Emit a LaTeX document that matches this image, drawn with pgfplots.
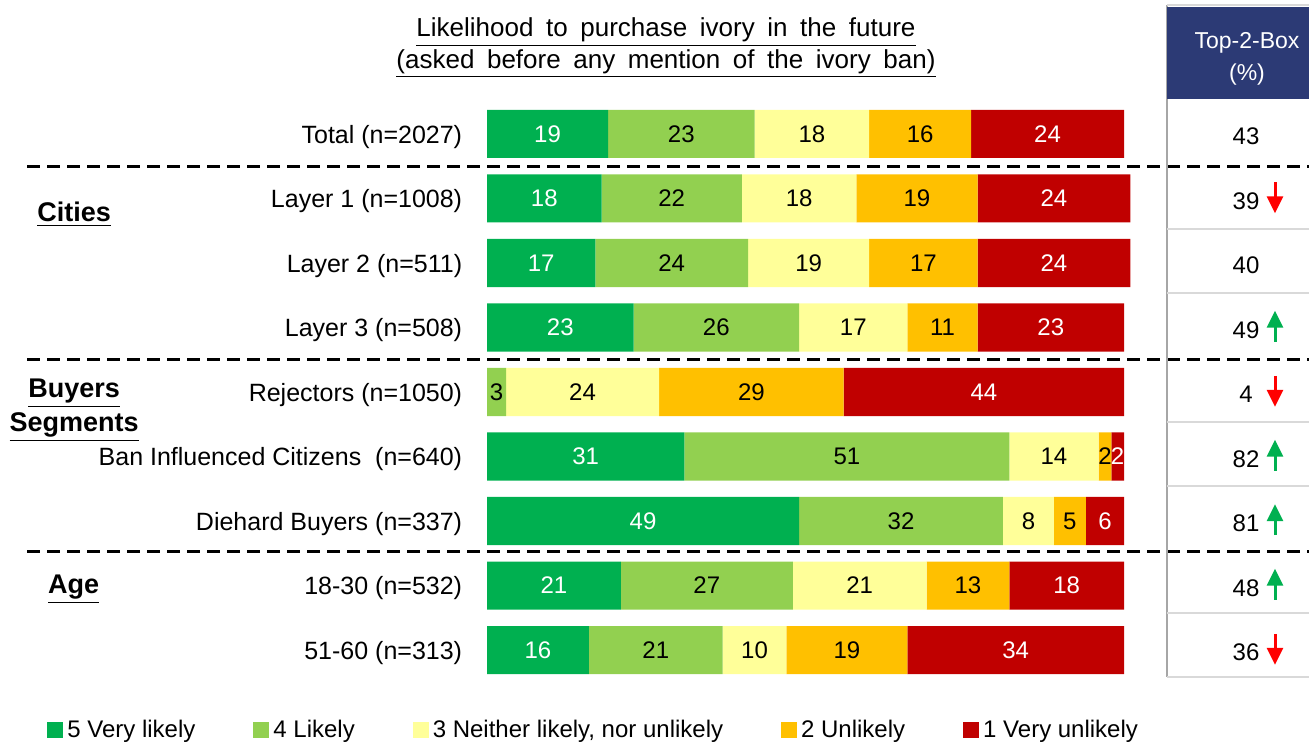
\documentclass[border=0pt]{standalone}
\usepackage{fontspec}
\setmainfont{Liberation Sans}
\usepackage{pgfplots}
\usepackage{pgfplotstable}
\pgfplotsset{compat=1.18}
\usetikzlibrary{arrows.meta}

\definecolor{c5}{HTML}{00B050}
\definecolor{c4}{HTML}{92D050}
\definecolor{c3}{HTML}{FFFF99}
\definecolor{c2}{HTML}{FFC000}
\definecolor{c1}{HTML}{C00000}
\definecolor{hdrblue}{HTML}{2C3A75}
\definecolor{rulegray}{HTML}{D9D9D9}
\definecolor{framegray}{HTML}{A6A6A6}
\definecolor{upgreen}{HTML}{00B050}
\definecolor{downred}{HTML}{FF0000}

\newcommand{\ws}{\hspace{6.3pt}}

% 5 = very likely ... 1 = very unlikely, rows top to bottom
\pgfplotstableread{
row v5 v4 v3 v2 v1 t2b
0 19 23 18 16 24 43
1 18 22 18 19 24 39
2 17 24 19 17 24 40
3 23 26 17 11 23 49
4 0  3  24 29 44 4
5 31 51 14 2  2  82
6 49 32 8  5  6  81
7 21 27 21 13 18 48
8 16 21 10 19 34 36
}\likelihood
% label positions: middle of each segment
\pgfplotstablecreatecol[create col/expr={\thisrow{v5}/2}]{m5}\likelihood
\pgfplotstablecreatecol[create col/expr={\thisrow{v5}+\thisrow{v4}/2}]{m4}\likelihood
\pgfplotstablecreatecol[create col/expr={\thisrow{v5}+\thisrow{v4}+\thisrow{v3}/2}]{m3}\likelihood
\pgfplotstablecreatecol[create col/expr={\thisrow{v5}+\thisrow{v4}+\thisrow{v3}+\thisrow{v2}/2}]{m2}\likelihood
\pgfplotstablecreatecol[create col/expr={\thisrow{v5}+\thisrow{v4}+\thisrow{v3}+\thisrow{v2}+\thisrow{v1}/2}]{m1}\likelihood

\pgfplotsset{
  frame/.style={
    scale only axis,
    width=654.5pt, height=371.5pt,
    xmin=-76.45, xmax=129.04,
    ymin=-2.0775, ymax=9.442,
    y dir=reverse,
    hide axis,
    clip=false,
  },
  seg/.style={fill=#1, draw=none},
  % marks are zero size and in the bar colour, so only the numbers show
  lab/.style 2 args={only marks, mark=*, mark size=0pt,
    mark options={draw=#2, fill=#2},
    nodes near coords, point meta=explicit symbolic,
    every node near coord/.append style={anchor=center, text=#1,
      font=\fontsize{12}{14}\selectfont}},
}

\begin{document}
\begin{tikzpicture}
\begin{axis}[
  frame,
  xbar stacked,
  bar width=24pt,
  legend columns=5,
  legend cell align=left,
  legend image code/.code={\fill[#1, draw=none] (0pt,-4pt) rectangle (8pt,4pt);},
  legend style={at={(0.0359,0.0175)}, anchor=west, draw=none, fill=none,
    inner sep=0pt, font=\fontsize{12}{14}\selectfont,
    /tikz/every even column/.append style={column sep=27pt}},
]
\addplot[seg=c5] table[x=v5, y=row] {\likelihood};
\addlegendentry{5 Very likely}
\addplot[seg=c4] table[x=v4, y=row] {\likelihood};
\addlegendentry{4 Likely}
\addplot[seg=c3] table[x=v3, y=row] {\likelihood};
\addlegendentry{3 Neither likely, nor unlikely}
\addplot[seg=c2] table[x=v2, y=row] {\likelihood};
\addlegendentry{2 Unlikely}
\addplot[seg=c1] table[x=v1, y=row] {\likelihood};
\addlegendentry{1 Very unlikely}

% title
\node[anchor=base, font=\fontsize{13}{15.5}\selectfont] at (28.1,-1.504)
  {\underline{Likelihood\ws to\ws purchase\ws ivory\ws in\ws the\ws future}};
\node[anchor=base, font=\fontsize{13}{15.5}\selectfont] at (28.1,-1.023)
  {\underline{(asked\ws before\ws any\ws mention\ws of\ws the\ws ivory\ws ban)}};

% row labels
\node[anchor=east, font=\fontsize{12.5}{15}\selectfont] at (-2.8,0.04) {Total (n=2027)};
\node[anchor=east, font=\fontsize{12.5}{15}\selectfont] at (-2.8,1.04) {Layer 1 (n=1008)};
\node[anchor=east, font=\fontsize{12.5}{15}\selectfont] at (-2.8,2.04) {Layer 2 (n=511)};
\node[anchor=east, font=\fontsize{12.5}{15}\selectfont] at (-2.8,3.04) {Layer 3 (n=508)};
\node[anchor=east, font=\fontsize{12.5}{15}\selectfont] at (-2.8,4.04) {Rejectors (n=1050)};
\node[anchor=east, font=\fontsize{12.5}{15}\selectfont] at (-2.8,5.04) {Ban Influenced Citizens\ \ (n=640)};
\node[anchor=east, font=\fontsize{12.5}{15}\selectfont] at (-2.8,6.04) {Diehard Buyers (n=337)};
\node[anchor=east, font=\fontsize{12.5}{15}\selectfont] at (-2.8,7.04) {18-30 (n=532)};
\node[anchor=east, font=\fontsize{12.5}{15}\selectfont] at (-2.8,8.04) {51-60 (n=313)};

% group labels
\node[anchor=base, font=\bfseries\fontsize{13.5}{16}\selectfont] at (-64.8,1.364) {\underline{Cities}};
\node[anchor=base, font=\bfseries\fontsize{13.5}{16}\selectfont] at (-64.8,4.093) {\underline{Buyers}};
\node[anchor=base, font=\bfseries\fontsize{13.5}{16}\selectfont] at (-64.8,4.62) {\underline{Segments}};
\node[anchor=base, font=\bfseries\fontsize{13.5}{16}\selectfont] at (-64.9,7.13) {\underline{Age}};

% top-2-box column
\fill[hdrblue] (106.75,-1.97) rectangle (129.04,-0.55);
\draw[rulegray, line width=1pt] (106.75,-2.0) -- (129.04,-2.0);
\draw[rulegray, line width=1pt] (106.75,1.47) -- (129.04,1.47);
\draw[rulegray, line width=1pt] (106.75,2.47) -- (129.04,2.47);
\draw[rulegray, line width=1pt] (106.75,4.47) -- (129.04,4.47);
\draw[rulegray, line width=1pt] (106.75,5.45) -- (129.04,5.45);
\draw[rulegray, line width=1pt] (106.75,7.43) -- (129.04,7.43);
\draw[rulegray, line width=1pt] (106.75,8.42) -- (129.04,8.42);
\draw[framegray, line width=1pt] (106.75,-2.0) -- (106.75,8.42);

\node[font=\fontsize{12}{14}\selectfont] at (119.15,0.04) {43};
\node[font=\fontsize{12}{14}\selectfont] at (119.15,1.04) {39};
\node[font=\fontsize{12}{14}\selectfont] at (119.15,2.04) {40};
\node[font=\fontsize{12}{14}\selectfont] at (119.15,3.04) {49};
\node[font=\fontsize{12}{14}\selectfont] at (119.15,4.04) {4};
\node[font=\fontsize{12}{14}\selectfont] at (119.15,5.04) {82};
\node[font=\fontsize{12}{14}\selectfont] at (119.15,6.04) {81};
\node[font=\fontsize{12}{14}\selectfont] at (119.15,7.04) {48};
\node[font=\fontsize{12}{14}\selectfont] at (119.15,8.04) {36};

\draw[line width=1.5pt, -{Triangle[width=8pt,length=8.5pt]}, downred] (123.7,0.75) -- (123.7,1.23);
\draw[line width=1.5pt, -{Triangle[width=8pt,length=8.5pt]}, upgreen] (123.7,3.22) -- (123.7,2.74);
\draw[line width=1.5pt, -{Triangle[width=8pt,length=8.5pt]}, downred] (123.7,3.75) -- (123.7,4.23);
\draw[line width=1.5pt, -{Triangle[width=8pt,length=8.5pt]}, upgreen] (123.7,5.22) -- (123.7,4.74);
\draw[line width=1.5pt, -{Triangle[width=8pt,length=8.5pt]}, upgreen] (123.7,6.22) -- (123.7,5.74);
\draw[line width=1.5pt, -{Triangle[width=8pt,length=8.5pt]}, upgreen] (123.7,7.22) -- (123.7,6.74);
\draw[line width=1.5pt, -{Triangle[width=8pt,length=8.5pt]}, downred] (123.7,7.75) -- (123.7,8.23);

% dashed separators
\draw[black, line width=1.3pt, dash pattern=on 6.5pt off 3.5pt] (-72.2,0.5) -- (129.04,0.5);
\draw[black, line width=1.3pt, dash pattern=on 6.5pt off 3.5pt] (-72.2,3.5) -- (129.04,3.5);
\draw[black, line width=1.3pt, dash pattern=on 6.5pt off 3.5pt] (-72.2,6.47) -- (129.04,6.47);
\end{axis}

% segment values and header text, same frame as the bars
\begin{axis}[frame]
\addplot[lab={white}{c5}, skip coords between index={4}{5}] table[x=m5, y=row, meta=v5] {\likelihood};
\addplot[lab={black}{c4}] table[x=m4, y=row, meta=v4] {\likelihood};
\addplot[lab={black}{c3}] table[x=m3, y=row, meta=v3] {\likelihood};
\addplot[lab={black}{c2}] table[x=m2, y=row, meta=v2] {\likelihood};
\addplot[lab={white}{c1}] table[x=m1, y=row, meta=v1] {\likelihood};
\node[anchor=base, text=white, font=\fontsize{11.5}{14}\selectfont] at (119.3,-1.333) {Top-2-Box};
\node[anchor=base, text=white, font=\fontsize{11.5}{14}\selectfont] at (119.3,-0.837) {(\%)};
\end{axis}
\pgfresetboundingbox
\path (current axis.south west) rectangle (current axis.north east);
\end{tikzpicture}
\end{document}
